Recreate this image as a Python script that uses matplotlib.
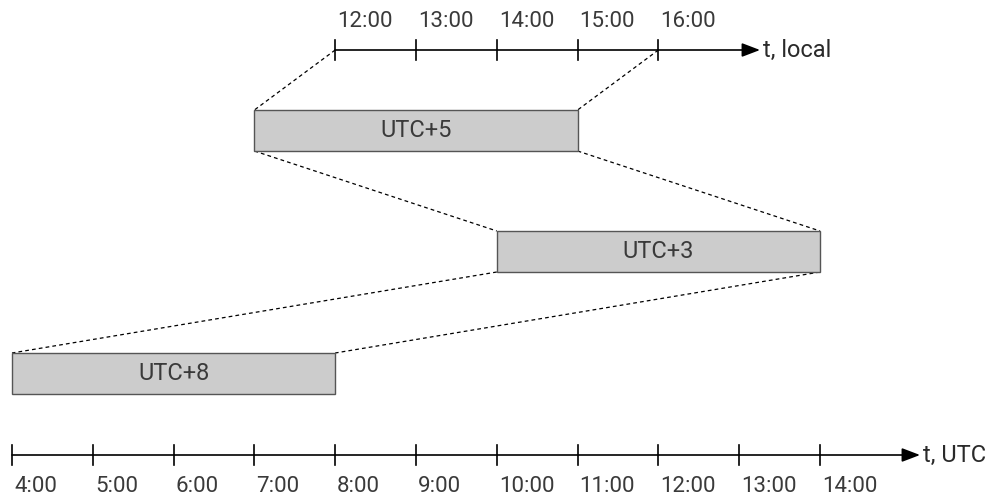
import matplotlib
matplotlib.use("Agg")
import matplotlib.pyplot as plt
from matplotlib.patches import Rectangle

# ---- data ----
utc_hours = [4, 5, 6, 7, 8, 9, 10, 11, 12, 13, 14]
utc_labels = ["4:00", "5:00", "6:00", "7:00", "8:00", "9:00", "10:00", "11:00", "12:00", "13:00", "14:00"]
local_hours = [12, 13, 14, 15, 16]
local_labels = ["12:00", "13:00", "14:00", "15:00", "16:00"]
zones = ["UTC+5", "UTC+3", "UTC+8"]
box_utc_start = [7, 10, 4]
box_utc_end = [11, 14, 8]

# ---- layout ----
plt.rcParams['font.family'] = ['Roboto', 'DejaVu Sans']
fig = plt.figure(figsize=(10, 4.99), dpi=100)
ax = fig.add_axes([0, 0, 1, 1])
px = 80.8  # pixels per hour
x0 = 4 - 12 / px
ax.set_xlim(x0, x0 + 1000 / px)
ax.set_ylim(499, 0)
ax.axis("off")

top_y = 50
bottom_y = 455
box_tops = [110, 231, 353]
box_h = 41
local_shift = -4  # where the local axis is drawn relative to the UTC scale
tick_half = 10
text_col = "#3a3a3a"
fs_tick = 16
fs_lab = 17
fs_box = 17

def draw_axis(y, ticks, labels, x_end, label, label_y):
    ax.annotate("", xy=(x_end, y), xytext=(ticks[0], y),
                arrowprops=dict(arrowstyle="-|>,head_length=1.1,head_width=0.42",
                                color="black", lw=1.2, shrinkA=0, shrinkB=0))
    for t, lab in zip(ticks, labels):
        ax.plot([t, t], [y - tick_half, y + tick_half], color="black", lw=1.2)
        ax.text(t + 2 / px, label_y, lab, ha="left", va="center", fontsize=fs_tick, color=text_col)
    ax.text(x_end + 3 / px, y, label, ha="left", va="center", fontsize=fs_lab, color="#2a2a2a")

# bottom UTC axis
draw_axis(bottom_y, utc_hours, utc_labels, 4 + 908 / px, "t, UTC", 487)
# top local axis
top_ticks = [h + local_shift for h in local_hours]
draw_axis(top_y, top_ticks, local_labels, 4 + 748 / px, "t, local", 21)

# boxes and dashed connectors
prev_left = (top_ticks[0], top_y)
prev_right = (top_ticks[-1], top_y)
for name, s, e, yt in zip(zones, box_utc_start, box_utc_end, box_tops):
    ax.plot([prev_left[0], s], [prev_left[1], yt], color="black", lw=0.9,
            linestyle=(0, (3, 2.5)))
    ax.plot([prev_right[0], e], [prev_right[1], yt], color="black", lw=0.9,
            linestyle=(0, (3, 2.5)))
    ax.add_patch(Rectangle((s, yt), e - s, box_h, facecolor="#cccccc",
                           edgecolor="#555555", lw=1.0, zorder=3))
    ax.text((s + e) / 2, yt + box_h / 2, name, ha="center", va="center",
            fontsize=fs_box, color=text_col, zorder=4)
    prev_left = (s, yt + box_h)
    prev_right = (e, yt + box_h)

fig.savefig("out.png", dpi=100, facecolor="white")
